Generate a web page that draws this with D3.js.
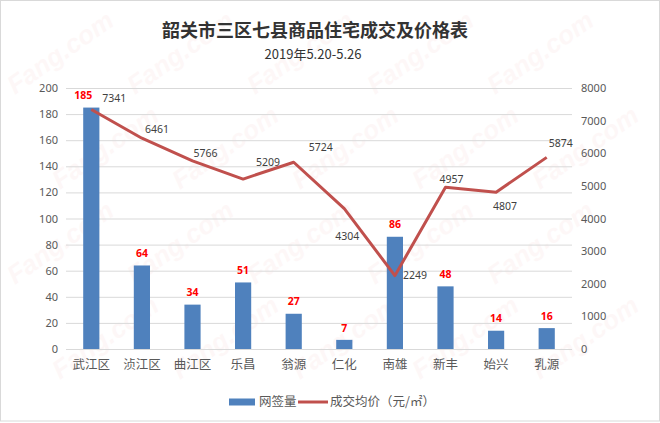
<!DOCTYPE html>
<html>
<head>
<meta charset="utf-8">
<script src="https://cdn.jsdelivr.net/npm/d3@7"></script>
<style>
  body { margin: 0; background: #fff; }
  svg { display: block; }
</style>
</head>
<body>
<svg id="chart"></svg>
<script>
        // Data
        const categories = ["武江区", "浈江区", "曲江区", "乐昌", "翁源", "仁化", "南雄", "新丰", "始兴", "乳源"];
        const deals = [185, 64, 34, 51, 27, 7, 86, 48, 14, 16];
        const prices = [7341, 6461, 5766, 5209, 5724, 4304, 2249, 4957, 4807, 5874];
        const leftTicks = [0, 20, 40, 60, 80, 100, 120, 140, 160, 180, 200];
        const rightTicks = [0, 1000, 2000, 3000, 4000, 5000, 6000, 7000, 8000];

        // Where each label sits relative to its mark (style only)
        const priceLabelOffset = [[23, -11], [15, -9], [13, -8], [25, -17], [27, -15],
                                  [3, 28], [20, 0], [6, -8], [9, 14], [14, -14]];
        const dealLabelShift = [-8, 0, 0, 0, 0, 0, 0, 0, 0, 0];

        const width = 660, height = 423;
        const margin = { left: 66, right: 88, top: 88, bottom: 74 };

        const svg = d3.select("#chart")
            .attr("width", width)
            .attr("height", height);

        // Frame
        svg.append("rect")
            .attr("x", 0.5).attr("y", 0.5)
            .attr("width", width - 1).attr("height", height - 2.5)
            .attr("fill", "#fff")
            .attr("stroke", "#d9d9d9");

        // Faint watermark, kept inside the frame
        const wm = svg.append("g").attr("class", "watermark");
        for (let r = 0; r < 4; r++) {
            for (let c = 0; c < 5; c++) {
                wm.append("text")
                    .attr("transform", `translate(${c * 120 + (r % 2) * 45 + 15}, ${r * 95 + 95}) rotate(-35)`)
                    .attr("font-family", "Liberation Sans, Arial, sans-serif")
                    .attr("font-weight", "bold")
                    .attr("font-style", "italic")
                    .attr("font-size", 26)
                    .attr("fill", "#e53935")
                    .attr("opacity", 0.035)
                    .text("Fang.com");
            }
        }

        // Scales
        const x = d3.scaleBand()
            .domain(categories)
            .range([margin.left, width - margin.right])
            .paddingInner(0.68)
            .paddingOuter(0.34);

        const yLeft = d3.scaleLinear()
            .domain([0, 200])
            .range([height - margin.bottom, margin.top]);

        const yRight = d3.scaleLinear()
            .domain([0, 8000])
            .range([height - margin.bottom, margin.top]);

        const cx = d => x(d) + x.bandwidth() / 2;

        // Gridlines
        const grid = svg.append("g")
            .attr("transform", `translate(${margin.left},0)`)
            .call(d3.axisLeft(yLeft).tickValues(leftTicks).tickSize(-(width - margin.left - margin.right)).tickFormat(""));
        grid.select(".domain").remove();
        grid.selectAll("line").attr("stroke", "#d9d9d9");

        // Left axis
        const axL = svg.append("g")
            .attr("transform", `translate(${margin.left - 8},0)`)
            .call(d3.axisLeft(yLeft).tickValues(leftTicks).tickSize(0).tickPadding(0));
        axL.select(".domain").remove();
        axL.selectAll("text")
            .attr("fill", "#595959")
            .attr("font-family", "Noto Sans, sans-serif")
            .attr("font-size", 11);

        // Right axis
        const axR = svg.append("g")
            .attr("transform", `translate(${width - margin.right + 9},0)`)
            .call(d3.axisRight(yRight).tickValues(rightTicks).tickSize(0).tickPadding(0).tickFormat(d3.format("d")));
        axR.select(".domain").remove();
        axR.selectAll("text")
            .attr("fill", "#595959")
            .attr("font-family", "Noto Sans, sans-serif")
            .attr("font-size", 11);

        // Category axis
        const axX = svg.append("g")
            .attr("transform", `translate(0,${height - margin.bottom})`)
            .call(d3.axisBottom(x).tickSize(0).tickPadding(11));
        axX.select(".domain").remove();
        axX.selectAll("text")
            .attr("fill", "#595959")
            .attr("font-family", "Noto Sans CJK SC, sans-serif")
            .attr("font-size", 12.5);

        // Bars
        svg.append("g").selectAll("rect")
            .data(deals)
            .join("rect")
            .attr("x", (d, i) => x(categories[i]))
            .attr("y", d => yLeft(d))
            .attr("width", x.bandwidth())
            .attr("height", d => yLeft(0) - yLeft(d))
            .attr("fill", "#4f81bd");

        // Price line
        const line = d3.line()
            .x((d, i) => cx(categories[i]))
            .y(d => yRight(d));

        svg.append("path")
            .datum(prices)
            .attr("d", line)
            .attr("fill", "none")
            .attr("stroke", "#c0504d")
            .attr("stroke-width", 3)
            .attr("stroke-linejoin", "round");

        // Bar labels
        svg.append("g").selectAll("text")
            .data(deals)
            .join("text")
            .attr("x", (d, i) => cx(categories[i]) + dealLabelShift[i])
            .attr("y", d => yLeft(d) - 12)
            .attr("dy", "0.35em")
            .attr("text-anchor", "middle")
            .attr("font-family", "Noto Sans, sans-serif")
            .attr("font-weight", "bold")
            .attr("font-size", 10.5)
            .attr("fill", "#ff0000")
            .text(d => d);

        // Price labels
        svg.append("g").selectAll("text")
            .data(prices)
            .join("text")
            .attr("x", (d, i) => cx(categories[i]) + priceLabelOffset[i][0])
            .attr("y", (d, i) => yRight(d) + priceLabelOffset[i][1])
            .attr("dy", "0.35em")
            .attr("text-anchor", "middle")
            .attr("font-family", "Noto Sans, sans-serif")
            .attr("font-size", 10.5)
            .attr("fill", "#404040")
            .text(d => d);

        // Title
        svg.append("text")
            .attr("x", 315).attr("y", 31)
            .attr("dy", "0.35em")
            .attr("text-anchor", "middle")
            .attr("font-family", "Noto Sans CJK SC, sans-serif")
            .attr("font-weight", "bold")
            .attr("font-size", 18)
            .attr("fill", "#333")
            .text("韶关市三区七县商品住宅成交及价格表");

        svg.append("text")
            .attr("x", 313).attr("y", 54)
            .attr("dy", "0.35em")
            .attr("text-anchor", "middle")
            .attr("font-family", "Noto Sans CJK SC, sans-serif")
            .attr("font-size", 13)
            .attr("fill", "#333")
            .text("2019年5.20-5.26");

        // Legend
        const legend = svg.append("g").attr("transform", "translate(229,402)");
        legend.append("rect")
            .attr("x", 0).attr("y", -3.5)
            .attr("width", 26).attr("height", 7)
            .attr("fill", "#4f81bd");
        legend.append("text")
            .attr("x", 30).attr("dy", "0.35em")
            .attr("font-family", "Noto Sans CJK SC, sans-serif")
            .attr("font-size", 12.5)
            .attr("fill", "#595959")
            .text("网签量");
        legend.append("line")
            .attr("x1", 69).attr("x2", 99)
            .attr("stroke", "#c0504d")
            .attr("stroke-width", 3);
        legend.append("text")
            .attr("x", 101).attr("dy", "0.35em")
            .attr("font-family", "Noto Sans CJK SC, sans-serif")
            .attr("font-size", 12.5)
            .attr("fill", "#595959")
            .text("成交均价（元/㎡）");
</script>
</body>
</html>
